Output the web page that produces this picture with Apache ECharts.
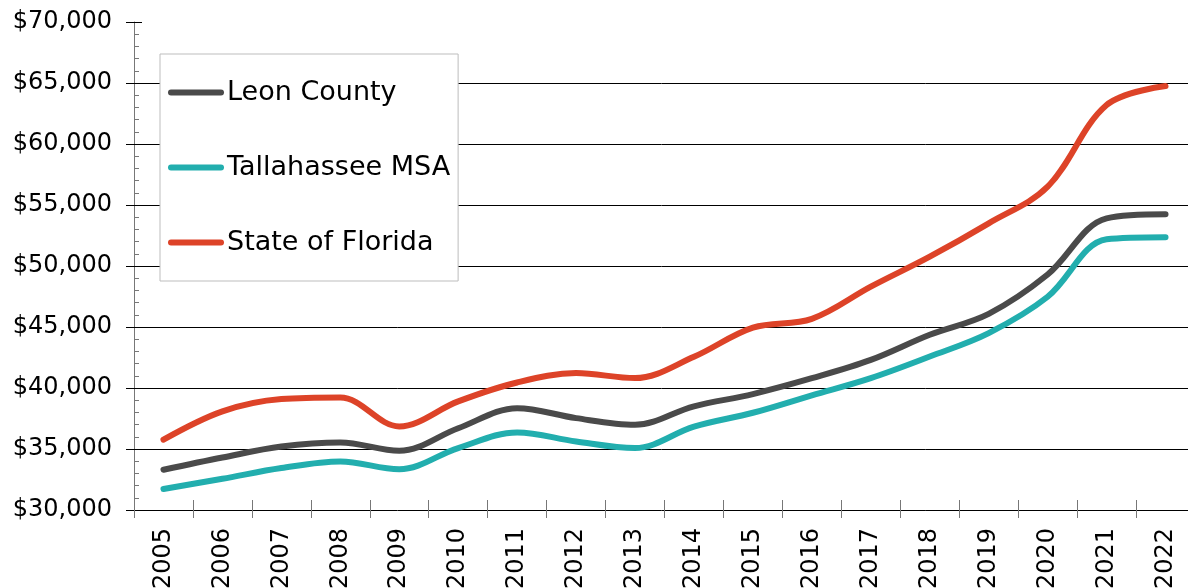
<!DOCTYPE html>
<html>
<head>
<meta charset="utf-8">
<script src="https://cdn.jsdelivr.net/npm/echarts@6/dist/echarts.min.js"></script>
<style>
html,body{margin:0;padding:0;background:#fff;}
#chart{width:1188px;height:588px;}
</style>
</head>
<body>
<div id="chart"></div>
<script>
const years = ['2005','2006','2007','2008','2009','2010','2011','2012','2013','2014','2015','2016','2017','2018','2019','2020','2021','2022'];
const leonCounty = [33300, 34300, 35200, 35540, 34850, 36700, 38350, 37530, 36990, 38500, 39500, 40800, 42300, 44360, 46080, 49300, 53910, 54240];
const tallahasseeMSA = [31720, 32560, 33440, 33980, 33340, 35080, 36360, 35620, 35080, 36830, 37970, 39400, 40810, 42580, 44500, 47480, 52190, 52360];
const stateOfFlorida = [35760, 38080, 39090, 39220, 36850, 38900, 40450, 41220, 40810, 42560, 44950, 45670, 48310, 50770, 53500, 56500, 63190, 64750];
const seriesNames = ['Leon County', 'Tallahassee MSA', 'State of Florida'];
const yMin = 30000, yMax = 70000, yStep = 5000;

const FONT = 'DejaVu Sans';
const chart = echarts.init(document.getElementById('chart'), null, {renderer: 'canvas'});
const legendIcon = 'path://M3,0 L53,0 A3,3 0 0 1 53,6 L3,6 A3,3 0 0 1 3,0 Z';
const lineSeries = (name, data, color) => ({
  name, type: 'line', data, smooth: 0.35, showSymbol: false, symbol: 'none',
  xAxisIndex: 0, yAxisIndex: 0,
  lineStyle: {color, width: 6, cap: 'round', join: 'round'},
  itemStyle: {color},
  z: 3
});
chart.setOption({
  animation: false,
  backgroundColor: '#fff',
  grid: {left: 134, top: 22, width: 1061, height: 488, containLabel: false, outerBoundsMode: 'none'},
  legend: {
    data: seriesNames,
    orient: 'vertical',
    left: 160, top: 54,
    padding: [25, 8, 25, 8],
    itemGap: 48,
    itemWidth: 56, itemHeight: 6,
    icon: legendIcon,
    backgroundColor: '#fff',
    borderColor: '#bdbdbd', borderWidth: 1,
    textStyle: {fontFamily: FONT, fontSize: 27, color: '#000', padding: [0,0,0,-2]},
    z: 10
  },
  xAxis: [{
    type: 'category', data: years, boundaryGap: true,
    axisLine: {show: true, lineStyle: {color: '#000', width: 1}},
    axisTick: {show: true, inside: false, length: 8, lineStyle: {color: '#777'}},
    axisLabel: {rotate: 90, margin: 18, fontFamily: FONT, fontSize: 24, color: '#000'},
    splitLine: {show: false}
  }, {
    type: 'category', data: years, boundaryGap: true, position: 'bottom',
    axisLine: {show: false},
    axisTick: {show: true, inside: true, length: 10, lineStyle: {color: '#777'}},
    axisLabel: {show: false},
    splitLine: {show: false}
  }],
  yAxis: [{
    type: 'value', min: yMin, max: yMax, interval: yStep,
    axisLine: {show: true, lineStyle: {color: '#777', width: 1}},
    axisTick: {show: true, inside: false, length: 8, lineStyle: {color: '#000'}},
    axisLabel: {margin: 22, fontFamily: FONT, fontSize: 24, color: '#000',
      formatter: v => '$' + v.toLocaleString('en-US')},
    splitLine: {show: true, showMinLine: false, showMaxLine: false, lineStyle: {color: '#000', width: 1}}
  }, {
    type: 'value', min: yMin, max: yMax, interval: yStep, position: 'left',
    axisLine: {show: false},
    axisTick: {show: true, inside: true, length: 8, lineStyle: {color: '#000'}},
    minorTick: {show: true, splitNumber: 5, length: 5, lineStyle: {color: '#777'}},
    axisLabel: {show: false},
    splitLine: {show: false}
  }],
  series: [
    lineSeries(seriesNames[0], leonCounty, '#4a4a4a'),
    lineSeries(seriesNames[1], tallahasseeMSA, '#22aeae'),
    lineSeries(seriesNames[2], stateOfFlorida, '#dd4328')
  ]
});
</script>
</body>
</html>
